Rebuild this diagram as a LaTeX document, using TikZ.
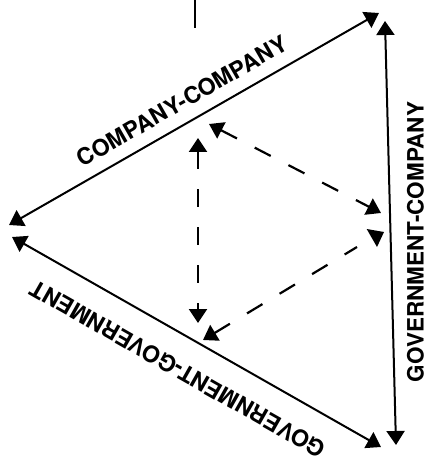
\documentclass[tikz,border=0pt]{standalone}
\usepackage{fontspec}
\setmainfont{TeX Gyre Heros}
\usetikzlibrary{arrows.meta}
\begin{document}
\begin{tikzpicture}[x=1pt,y=-1pt,
  >={Triangle[length=14pt,width=18pt]},
  tie/.style={line width=2pt},
  flow/.style={line width=2.2pt, dash pattern=on 18pt off 20pt},
  lab/.style={font=\bfseries\fontsize{23}{27}\selectfont, inner sep=0pt}]
\useasboundingbox (0,0) rectangle (428,465);

% end points of the outer triangle
\coordinate (stubA) at (195,0);
\coordinate (stubB) at (195,28);
\coordinate (ccL) at (9,225);
\coordinate (ccR) at (379,13);
\coordinate (gcT) at (385,21);
\coordinate (gcB) at (396,445);
\coordinate (ggL) at (12,237);
\coordinate (ggR) at (381,447);

% end points of the inner dashed triangle
\coordinate (vT) at (198,138);
\coordinate (vB) at (198,323);
\coordinate (uL) at (209,124);
\coordinate (uR) at (381,213);
\coordinate (lL) at (203,340);
\coordinate (lR) at (357,247);
\coordinate (hA) at (366.7,229);
\coordinate (hB) at (384,232);
\coordinate (hC) at (377,247);

% outer relations
\draw[tie] (stubA) -- (stubB);
\draw[tie,<->] (ccL) -- (ccR);
\draw[tie,<->] (gcT) -- (gcB);
\draw[tie,<->] (ggL) -- (ggR);

% inner flows
\draw[flow,<->] (vT) -- (vB);
\draw[flow,<->] (uL) -- (uR);
\draw[flow,<-] (lL) -- (lR);
\fill (hA) -- (hB) -- (hC) -- cycle;

% labels
\node[lab, rotate=29.8] (labCC) at (182,101) {COMPANY-COMPANY};
\node[lab, rotate=90, font=\bfseries\fontsize{22.5}{27}\selectfont] (labGC) at (415.5,242) {GOVERNMENT-COMPANY};
\node[lab, rotate=150.4] (labGG) at (178,369) {GOVERNMENT-GOVERNMENT};
\end{tikzpicture}
\end{document}
